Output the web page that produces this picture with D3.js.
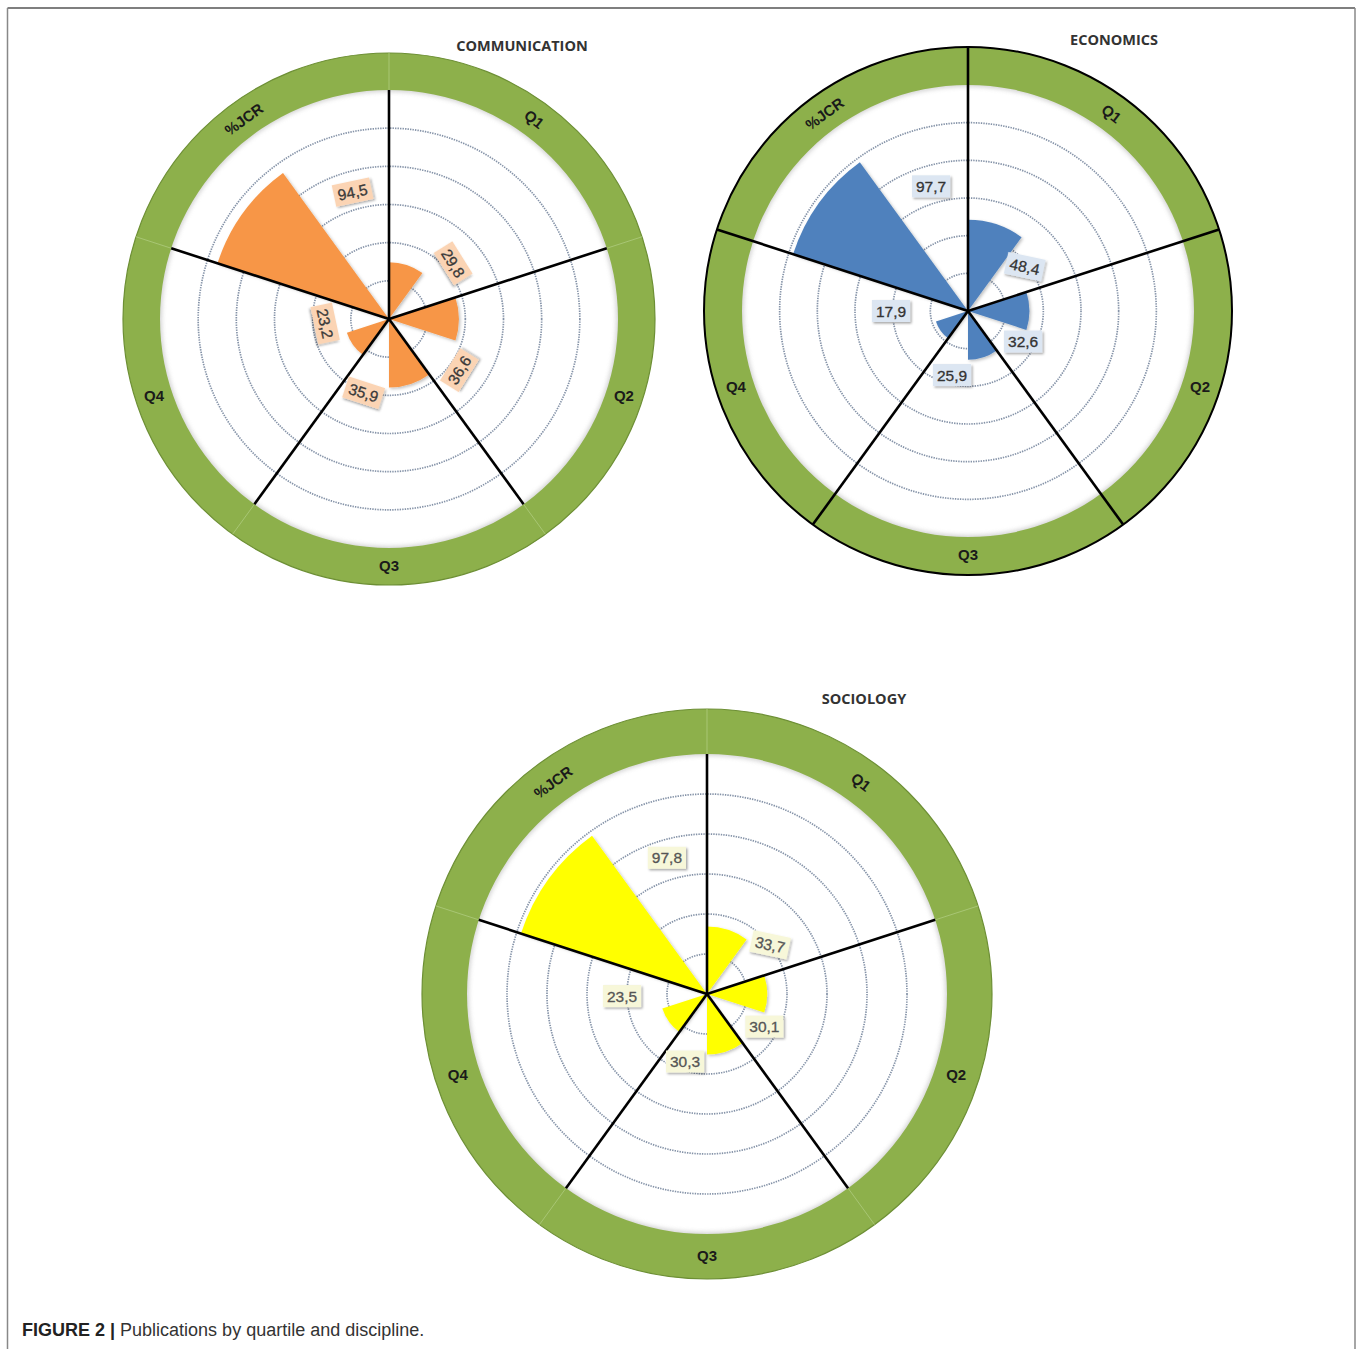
<!DOCTYPE html>
<html>
<head>
<meta charset="utf-8">
<script src="https://cdn.jsdelivr.net/npm/d3@7"></script>
<style>
  html, body { margin: 0; padding: 0; background: #fff; }
  svg { display: block; }
</style>
</head>
<body>
<svg id="chart" width="1358" height="1349"></svg>
<script>
// ---------------- DATA ----------------
const categories = ["Q1", "Q2", "Q3", "Q4", "%JCR"];
const disciplines = ["COMMUNICATION", "ECONOMICS", "SOCIOLOGY"];
const communicationValues = [29.8, 36.6, 35.9, 23.2, 94.5];
const economicsValues = [48.4, 32.6, 25.9, 17.9, 97.7];
const sociologyValues = [33.7, 30.1, 30.3, 23.5, 97.8];
const gridTicks = [20, 40, 60, 80, 100];
const radialMax = 120;
const captionBold = "FIGURE 2 |";
const captionText = " Publications by quartile and discipline.";

// ---------------- LAYOUT / STYLE ----------------
const charts = [
  {
    name: disciplines[0], values: communicationValues,
    cx: 389, cy: 319, outerR: 266, innerR: 229, labelR: 247,
    title: [522, 51],
    bar: "#f79646", box: "#fbd4b4", boxText: "#3a3a3a",
    labelAng: [49, 126, 199, 266, 344], labelRad: [85, 87, 78, 64, 132],
    labelRot: [58, -58, 18, 78, -12],
    linesThroughRing: false, ringStroke: "#6d8f35"
  },
  {
    name: disciplines[1], values: economicsValues,
    cx: 968, cy: 311, outerR: 264, innerR: 226, labelR: 244,
    title: [1114, 45],
    bar: "#4f81bd", box: "#dce6f2", boxText: "#333333",
    labelAng: [52, 119, 194, 270, 343.5], labelRad: [72, 63, 66, 77, 130],
    labelRot: [12, 0, 0, 0, 0],
    linesThroughRing: true, ringStroke: "#000000"
  },
  {
    name: disciplines[2], values: sociologyValues,
    cx: 707, cy: 994, outerR: 285, innerR: 240, labelR: 262,
    title: [864, 704],
    bar: "#ffff00", box: "#f7f7d9", boxText: "#555555",
    labelAng: [52, 119.6, 198, 268.6, 343.6], labelRad: [80, 66, 71, 85, 142],
    labelRot: [12, 0, 0, 0, 0],
    linesThroughRing: false, ringStroke: "#6d8f35"
  }
];
const ringLabelRot = [38, 0, 0, 0, -36];

const svg = d3.select("#chart");
const defs = svg.append("defs");
const f1 = defs.append("filter").attr("id", "boxShadow").attr("x", "-30%").attr("y", "-30%").attr("width", "160%").attr("height", "160%");
f1.append("feDropShadow").attr("dx", 1.5).attr("dy", 1.5).attr("stdDeviation", 1.2).attr("flood-color", "#000").attr("flood-opacity", 0.35);
const f2 = defs.append("filter").attr("id", "barShadow").attr("x", "-20%").attr("y", "-20%").attr("width", "140%").attr("height", "140%");
f2.append("feDropShadow").attr("dx", 1.5).attr("dy", 1.5).attr("stdDeviation", 1.5).attr("flood-color", "#000").attr("flood-opacity", 0.25);
const f3 = defs.append("filter").attr("id", "ringShadow").attr("x", "-10%").attr("y", "-10%").attr("width", "120%").attr("height", "120%");
f3.append("feGaussianBlur").attr("stdDeviation", 2.5);

// frame
svg.append("line").attr("x1", 7.5).attr("x2", 1355).attr("y1", 8).attr("y2", 8).attr("stroke", "#555").attr("stroke-width", 1.5);
svg.append("line").attr("x1", 7.5).attr("x2", 7.5).attr("y1", 8).attr("y2", 1349).attr("stroke", "#888").attr("stroke-width", 1.5);
svg.append("line").attr("x1", 1355).attr("x2", 1355).attr("y1", 8).attr("y2", 1349).attr("stroke", "#888").attr("stroke-width", 1.5);

const deg = Math.PI / 180;
const fmt = d3.formatLocale({ decimal: ",", thousands: ".", grouping: [3], currency: ["", "€"] }).format(".1f");
const n = categories.length;
const angle = d3.scaleLinear().domain([0, n]).range([0, 2 * Math.PI]);

charts.forEach(c => {
  const g = svg.append("g").attr("transform", `translate(${c.cx},${c.cy})`);
  const r = d3.scaleLinear().domain([0, radialMax]).range([0, c.innerR]);

  // grid circles
  g.selectAll("circle.grid").data(gridTicks).join("circle")
    .attr("class", "grid").attr("r", d => r(d))
    .attr("fill", "none").attr("stroke", "#8593a8").attr("stroke-width", 1.7)
    .attr("stroke-dasharray", "1.4,1.1");

  // bars
  const barArc = d3.arc().innerRadius(0)
    .outerRadius(d => r(d.v))
    .startAngle(d => angle(d.i))
    .endAngle(d => angle(d.i + 0.5));
  g.selectAll("path.bar").data(c.values.map((v, i) => ({ v, i }))).join("path")
    .attr("class", "bar").attr("d", barArc).attr("fill", c.bar)
    .attr("filter", "url(#barShadow)");

  // ring shadow on inner edge
  g.append("circle").attr("r", c.innerR + 1).attr("fill", "none")
    .attr("stroke", "#9a9a9a").attr("stroke-width", 4).attr("opacity", 0.6)
    .attr("filter", "url(#ringShadow)");

  // ring
  const ringArc = d3.arc().innerRadius(c.innerR).outerRadius(c.outerR)
    .startAngle(0).endAngle(2 * Math.PI);
  g.append("path").attr("d", ringArc()).attr("fill", "#8db04b");
  g.append("circle").attr("r", c.outerR).attr("fill", "none")
    .attr("stroke", c.ringStroke).attr("stroke-width", c.linesThroughRing ? 2 : 1.2);

  // faint ring separators
  if (!c.linesThroughRing) {
    g.selectAll("line.sep").data(d3.range(n)).join("line")
      .attr("class", "sep")
      .attr("x1", i => c.innerR * Math.sin(angle(i))).attr("y1", i => -c.innerR * Math.cos(angle(i)))
      .attr("x2", i => c.outerR * Math.sin(angle(i))).attr("y2", i => -c.outerR * Math.cos(angle(i)))
      .attr("stroke", "#a8c674").attr("stroke-width", 1);
  }

  // radial black lines
  const lineEnd = c.linesThroughRing ? c.outerR : c.innerR;
  g.selectAll("line.spoke").data(d3.range(n)).join("line")
    .attr("class", "spoke")
    .attr("x1", 0).attr("y1", 0)
    .attr("x2", i => lineEnd * Math.sin(angle(i))).attr("y2", i => -lineEnd * Math.cos(angle(i)))
    .attr("stroke", "#000").attr("stroke-width", 2.6);

  // ring category labels
  g.selectAll("text.cat").data(categories).join("text")
    .attr("class", "cat")
    .attr("transform", (d, i) => {
      const a = angle(i + 0.5);
      return `translate(${c.labelR * Math.sin(a)},${-c.labelR * Math.cos(a)}) rotate(${ringLabelRot[i]})`;
    })
    .attr("text-anchor", "middle").attr("dy", "0.36em")
    .attr("font-family", "'Liberation Sans', Arial, sans-serif").attr("font-weight", "bold")
    .attr("font-size", 15).attr("fill", "#1a1a1a")
    .text(d => d);

  // value labels
  const lg = g.selectAll("g.val").data(c.values).join("g")
    .attr("class", "val")
    .attr("transform", (d, i) => {
      const a = c.labelAng[i] * deg;
      const rr = c.labelRad[i];
      return `translate(${rr * Math.sin(a)},${-rr * Math.cos(a)}) rotate(${c.labelRot[i]})`;
    });
  lg.append("rect");
  lg.append("text")
    .attr("text-anchor", "middle").attr("dy", "0.36em")
    .attr("font-family", "'Liberation Sans', Arial, sans-serif")
    .attr("font-size", 15.5).attr("fill", c.boxText)
    .attr("stroke", c.boxText).attr("stroke-width", 0.3)
    .text(d => fmt(d));
  lg.each(function () {
    const t = d3.select(this).select("text").node();
    const w = t.getComputedTextLength();
    d3.select(this).select("rect")
      .attr("x", -w / 2 - 4).attr("y", -11).attr("width", w + 8).attr("height", 22)
      .attr("fill", c.box).attr("filter", "url(#boxShadow)");
  });

  // title
  svg.append("text").attr("x", c.title[0]).attr("y", c.title[1])
    .attr("text-anchor", "middle")
    .attr("font-family", "'Open Sans', sans-serif").attr("font-weight", "bold")
    .attr("font-size", 14.5).attr("fill", "#333")
    .text(c.name);
});

// caption
const cap = svg.append("text").attr("x", 22).attr("y", 1336)
  .attr("font-family", "'Liberation Sans', Arial, sans-serif").attr("font-size", 18).attr("fill", "#333");
cap.append("tspan").attr("font-weight", "bold").attr("fill", "#222").text(captionBold);
cap.append("tspan").text(captionText);
</script>
</body>
</html>
